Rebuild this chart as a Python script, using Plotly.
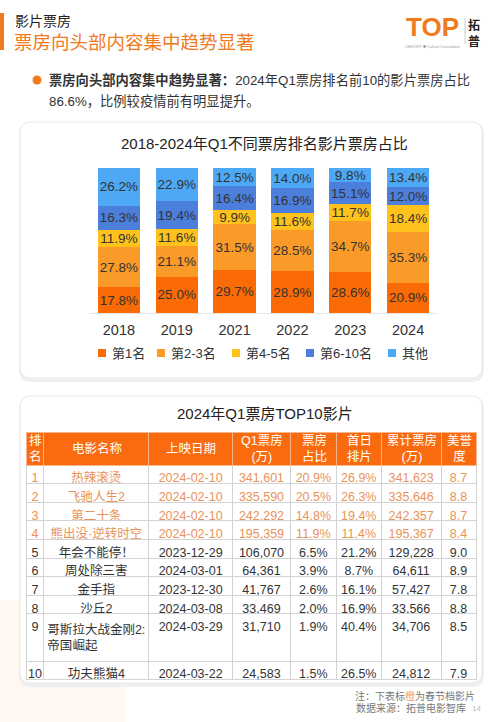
import plotly.graph_objects as go

W, H = 500, 722
FONT = "Liberation Sans, Noto Sans CJK SC, sans-serif"
CJK = "Noto Sans CJK SC, sans-serif"

# ---------------- data ----------------
years = ["2018", "2019", "2021", "2022", "2023", "2024"]
series_names = ["第1名", "第2-3名", "第4-5名", "第6-10名", "其他"]
rank1 = [17.8, 25.0, 29.7, 28.9, 28.6, 20.9]
rank2_3 = [27.8, 21.1, 31.5, 28.5, 34.7, 35.3]
rank4_5 = [11.9, 11.6, 9.9, 11.6, 11.7, 18.4]
rank6_10 = [16.3, 19.4, 16.4, 16.9, 15.1, 12.0]
others = [26.2, 22.9, 12.5, 14.0, 9.8, 13.4]
series_values = [rank1, rank2_3, rank4_5, rank6_10, others]
series_colors = ["#FA6A05", "#FA9A28", "#FFC21C", "#4C7FDC", "#4DA8F5"]

table_header = ["排<br>名", "电影名称", "上映日期", "Q1票房<br>(万)", "票房<br>占比",
                "首日<br>排片", "累计票房<br>(万)", "美誉<br>度"]
t_rank = [str(i) for i in range(1, 11)]
t_name = ["热辣滚烫", "飞驰人生2", "第二十条", "熊出没·逆转时空", "年会不能停！",
          "周处除三害", "金手指", "沙丘2", "哥斯拉大战金刚2:<br>帝国崛起", "功夫熊猫4"]
t_date = ["2024-02-10", "2024-02-10", "2024-02-10", "2024-02-10", "2023-12-29",
          "2024-03-01", "2023-12-30", "2024-03-08", "2024-03-29", "2024-03-22"]
t_q1 = ["341,601", "335,590", "242,292", "195,359", "106,070",
        "64,361", "41,767", "33,469", "31,710", "24,583"]
t_share = ["20.9%", "20.5%", "14.8%", "11.9%", "6.5%", "3.9%", "2.6%", "2.0%", "1.9%", "1.5%"]
t_first = ["26.9%", "26.3%", "19.4%", "11.4%", "21.2%", "8.7%", "16.1%", "16.9%", "40.4%", "26.5%"]
t_total = ["341,623", "335,646", "242,357", "195,367", "129,228",
           "64,611", "57,427", "33,566", "34,706", "24,812"]
t_score = ["8.7", "8.8", "8.7", "8.4", "9.0", "8.9", "7.8", "8.8", "8.5", "7.9"]
spring_festival = [True, True, True, True, False, False, False, False, False, False]

# table geometry (pixels)
col_edges = [26, 44, 149, 233, 291, 337, 382, 442, 477]
TABLE_TOP = 432
HEADER_H = 33


def X(px):
    return px / W


def Y(py):
    return 1 - py / H


def rrect(x0, y0, x1, y1, r):
    rx, ry = r / W, r / H
    a, b, c, d = X(x0), Y(y1), X(x1), Y(y0)
    return (f"M{a+rx},{d} L{c-rx},{d} Q{c},{d} {c},{d-ry} L{c},{b+ry} Q{c},{b} {c-rx},{b} "
            f"L{a+rx},{b} Q{a},{b} {a},{b+ry} L{a},{d-ry} Q{a},{d} {a+rx},{d} Z")


fig = go.Figure()

for name, vals, col in zip(series_names, series_values, series_colors):
    fig.add_trace(go.Bar(
        x=years, y=vals, name=name, marker=dict(color=col, line=dict(width=0)),
        texttemplate="%{y:.1f}%", textposition="inside", insidetextanchor="middle",
        textangle=0, constraintext="none",
        textfont=dict(family=FONT, size=13.5, color="#333333"),
        showlegend=False, hoverinfo="skip"))

# table
orange_txt = "#E8935A"
dark_txt = "#333333"
row_colors = [orange_txt if s else dark_txt for s in spring_festival]
cols = [t_rank, t_name, t_date, t_q1, t_share, t_first, t_total, t_score]
widths = [b - a for a, b in zip(col_edges[:-1], col_edges[1:])]
fig.add_trace(go.Table(
    domain=dict(x=[X(col_edges[0]), X(col_edges[-1])], y=[0.0, Y(TABLE_TOP)]),
    columnwidth=widths,
    header=dict(values=[""] * len(table_header), fill_color="#FA6B10",
                line=dict(color="#F7B58C", width=1), align="center", height=HEADER_H,
                font=dict(family=FONT, size=12.5, color="white")),
    cells=dict(values=cols, fill_color="white", line=dict(color="#D3D3D3", width=1),
               align="center", height=18.6,
               font=dict(family=FONT, size=12.5, color=[row_colors] * len(cols)))))

shapes = []
shapes.append(dict(type="rect", xref="paper", yref="paper", x0=X(0), x1=X(4), y0=Y(50), y1=Y(13),
                   fillcolor="#F07A1E", line_width=0, layer="below"))
shapes.append(dict(type="rect", xref="paper", yref="paper", x0=X(0), x1=X(125), y0=Y(722), y1=Y(600),
                   fillcolor="#FFF8F1", line_width=0, layer="below"))
for (x0, y0, x1, y1) in [(20, 122, 482, 378), (20, 396, 482, 683)]:
    shapes.append(dict(type="path", xref="paper", yref="paper", path=rrect(x0 - 1, y0, x1 + 2, y1 + 4, 12),
                       fillcolor="#EFEFEF", line_width=0, layer="below"))
    shapes.append(dict(type="path", xref="paper", yref="paper", path=rrect(x0, y0, x1, y1, 11),
                       fillcolor="white", line=dict(color="#EBEBEB", width=1), layer="below"))
shapes.append(dict(type="circle", xref="paper", yref="paper", x0=X(32.5), x1=X(41.5), y0=Y(84.5), y1=Y(75.5),
                   fillcolor="#F07A1E", line_width=0))
shapes.append(dict(type="line", xref="paper", yref="paper", x0=X(465), x1=X(465), y0=Y(18), y1=Y(44),
                   line=dict(color="#CCCCCC", width=1)))
leg_x = [98, 157, 232, 306, 388]
for lx, col in zip(leg_x, series_colors):
    shapes.append(dict(type="rect", xref="paper", yref="paper", x0=X(lx), x1=X(lx + 8),
                       y0=Y(357), y1=Y(349), fillcolor=col, line_width=0))

ann = []


def txt(x, y, s, size, color, anchor="left", bold=False, family=FONT):
    ann.append(dict(xref="paper", yref="paper", x=X(x), y=Y(y), text=(f"<b>{s}</b>" if bold else s),
                    showarrow=False, xanchor=anchor, yanchor="middle",
                    font=dict(family=family, size=size, color=color)))


txt(13, 21, "影片票房", 14, "#222222")
txt(12, 43, "票房向头部内容集中趋势显著", 18.5, "#F07A1E")
txt(47, 80, "<b>票房向头部内容集中趋势显著：</b>2024年Q1票房排名前10的影片票房占比", 13.3, "#333333")
txt(47, 101, "86.6%，比例较疫情前有明显提升。", 13.3, "#333333")
# logo
txt(432, 27, "TOP", 26, "#F07A1E", anchor="center", bold=True, family="Liberation Sans")
txt(432, 46, "CENTURY ◆ Cultural Consultation", 3.5, "#999999", anchor="center")
txt(474, 24, "拓", 12, "#222222", anchor="center", bold=True, family=CJK)
txt(474, 40, "普", 12, "#222222", anchor="center", bold=True, family=CJK)
# titles
txt(264, 143, "2018-2024年Q1不同票房排名影片票房占比", 15, "#222222", anchor="center")
txt(265, 413, "2024年Q1票房TOP10影片", 15, "#222222", anchor="center")
# legend labels
for lx, name in zip(leg_x, series_names):
    txt(lx + 12, 353, name, 13, "#333333")
# table header labels
for i, lab in enumerate(table_header):
    cx = (col_edges[i] + col_edges[i + 1]) / 2
    txt(cx, TABLE_TOP + HEADER_H / 2, lab, 12.5, "white", anchor="center")
# footer
txt(477, 696, "注：下表标<span style='color:#F0A060'>橙</span>为春节档影片", 10, "#777777", anchor="right")
txt(468, 708, "数据来源：拓普电影智库", 10, "#777777", anchor="right")
txt(470, 708, "14", 8, "#BBBBBB")

fig.update_layout(
    width=W, height=H, margin=dict(l=0, r=0, t=0, b=0),
    paper_bgcolor="white", plot_bgcolor="rgba(0,0,0,0)",
    barmode="stack", bargap=0.27, showlegend=False,
    uniformtext=dict(minsize=13, mode="show"),
    font=dict(family=FONT),
    xaxis=dict(domain=[X(90), X(437)], type="category", categoryorder="array", categoryarray=years,
               showgrid=False, zeroline=False, showline=True, linecolor="#E6E6E6", linewidth=1,
               ticks="", tickfont=dict(family="Liberation Sans", size=14.5, color="#333333"),
               ticklabelstandoff=4, fixedrange=True),
    yaxis=dict(domain=[Y(313), Y(168)], range=[0, 100], visible=False, fixedrange=True),
    shapes=shapes, annotations=ann,
)

fig.write_html("out.html", config={"displayModeBar": False},
               post_script="document.body.style.margin='0';document.body.style.overflow='hidden';")
